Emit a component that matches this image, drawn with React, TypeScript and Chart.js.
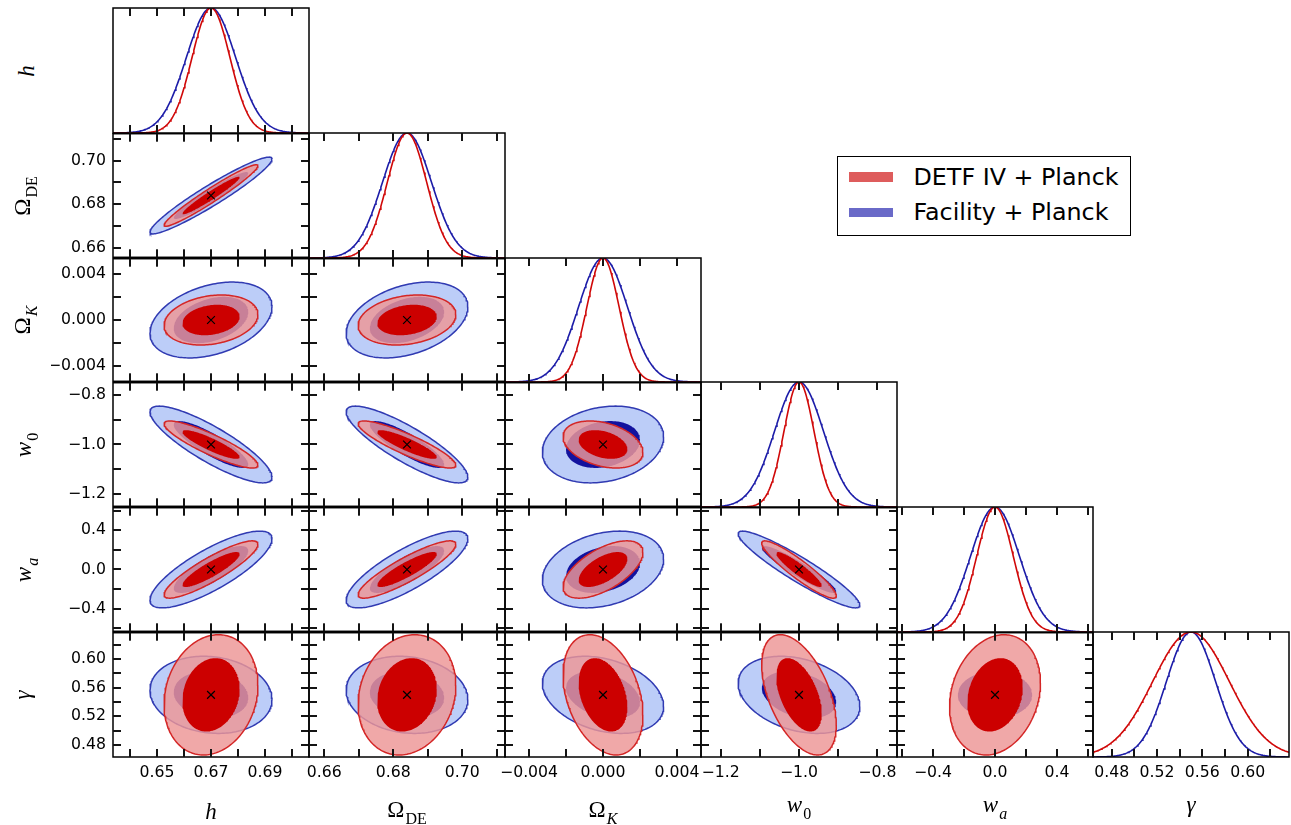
import React, { useEffect, useRef } from 'react';
import { Chart, registerables } from 'chart.js';

Chart.register(...registerables);

// ---------------- data ----------------
// parameter order: h, Omega_DE, Omega_K, w0, wa, gamma
const SYMBOL = ['h', 'Ω', 'Ω', 'w', 'w', 'γ'];
const SYMBOL_ITALIC = [true, false, false, true, true, true];
const SUBSCRIPT = ['', 'DE', 'K', '0', 'a', ''];
const SUBSCRIPT_ITALIC = [false, false, true, false, true, false];

const FIDUCIAL = [0.67, 0.684, 0.0, -1.0, 0.0, 0.55];
const SIGMA_FACILITY = [0.0091, 0.0071, 0.00132, 0.0625, 0.158, 0.0216];
const SIGMA_DETF = [0.007, 0.0057, 0.00087, 0.0383, 0.118, 0.0337];
const AXIS_HALF_RANGE = [0.0363, 0.0284, 0.0053, 0.25, 0.632, 0.0865];

const TICK_STEP = [0.01, 0.01, 0.002, 0.1, 0.2, 0.02];
const LABEL_STEP = [0.02, 0.02, 0.004, 0.2, 0.4, 0.04];
const LABEL_BASE = [0.65, 0.66, 0.0, -1.0, 0.0, 0.48];
const LABEL_DECIMALS = [2, 2, 3, 1, 1, 2];

// correlation coefficients (row parameter vs column parameter)
const RHO_FACILITY = [
  [],
  [0.95],
  [0.35, 0.35],
  [-0.85, -0.85, 0.2],
  [0.8, 0.8, 0.27, -0.93],
  [-0.12, -0.12, -0.3, -0.3, 0.0],
];
const RHO_DETF = [
  [],
  [0.965],
  [0.22, 0.22],
  [-0.88, -0.88, -0.33],
  [0.88, 0.88, 0.6, -0.92],
  [0.16, 0.16, -0.33, -0.5, 0.2],
];
// panels where the Facility 95% contour is not drawn
const FACILITY_OUTER_HIDDEN = ['5,4'];
const CONTOUR_DCHI2 = [2.3, 6.17];
const SERIES_LABELS = ['DETF IV + Planck', 'Facility + Planck'];

// ---------------- styles / layout ----------------
const COLORS = {
  blueOuterFill: 'rgb(188,205,248)',
  blueEdge: 'rgb(48,58,178)',
  blueInner: 'rgb(18,18,158)',
  redOuterFill: 'rgba(237,150,150,0.83)',
  redEdge: 'rgb(212,38,38)',
  redInner: 'rgb(204,0,0)',
  blueLine: 'rgb(28,28,168)',
  redLine: 'rgb(208,8,8)',
  legendRed: 'rgb(222,92,92)',
  legendBlue: 'rgb(106,106,200)',
  tick: 'rgb(20,20,20)',
  frame: 'rgb(0,0,0)',
};
const COL_LEFT = [113, 309, 505, 701, 897, 1093, 1289];
const ROW_TOP = [8, 133, 258, 382, 507, 632, 757];
const TICK_FONT = { family: 'DejaVu Sans', size: 15.7 };
const TICK_LEN = 8;
const TICK_W = 2;
const TITLE_SIZE = 23;
const SUB_SIZE = 16;
const SUB_DROP = 7;
const TITLE_BASE = 19.3; // baseline offset inside the title line box
const X_TITLE_BASELINE = [819, 817, 817, 812, 812.5, 812];
const Y_TITLE_BASELINE_X = [33.5, 29.5, 29.5, 31, 31, 30];

function fmtTick(i: number, v: number): string {
  const n = (v - LABEL_BASE[i]) / LABEL_STEP[i];
  if (Math.abs(n - Math.round(n)) > 1e-6) return '';
  const d = LABEL_DECIMALS[i];
  if (Math.abs(v) < 1e-12) return (0).toFixed(d);
  return v < 0 ? '\u2212' + (-v).toFixed(d) : v.toFixed(d);
}

function tickValues(lo: number, hi: number, step: number): number[] {
  const out: number[] = [];
  const k0 = Math.ceil(lo / step - 1e-9);
  const k1 = Math.floor(hi / step + 1e-9);
  for (let k = k0; k <= k1; k++) out.push(Number((k * step).toFixed(10)));
  return out;
}

function ellipsePoints(mx: number, my: number, sx: number, sy: number, rho: number, dchi2: number) {
  const k = Math.sqrt(dchi2);
  const s = Math.sqrt(Math.max(0, 1 - rho * rho));
  const pts: { x: number; y: number }[] = [];
  const n = 181;
  for (let i = 0; i < n; i++) {
    const t = (2 * Math.PI * i) / (n - 1);
    const ct = Math.cos(t);
    const st = Math.sin(t);
    pts.push({ x: mx + k * sx * ct, y: my + k * sy * (rho * ct + s * st) });
  }
  return pts;
}

function gaussianPoints(mu: number, sigma: number, lo: number, hi: number) {
  const pts: { x: number; y: number }[] = [];
  const n = 241;
  for (let i = 0; i < n; i++) {
    const x = lo + ((hi - lo) * i) / (n - 1);
    const z = (x - mu) / sigma;
    pts.push({ x, y: Math.exp(-0.5 * z * z) });
  }
  return pts;
}

type Spec = {
  r: number; c: number; left: number; top: number; w: number; h: number;
  ml: number; mr: number; mt: number; mb: number; showX: boolean; showY: boolean;
};

const PANELS: Spec[] = [];
for (let r = 0; r < 6; r++) {
  for (let c = 0; c <= r; c++) {
    const showY = c === 0 && r > 0;
    const showX = r === 5;
    const ml = showY ? 62 : 14;
    const mr = 14;
    const mt = 6;
    const mb = showX ? 34 : 6;
    const pw = COL_LEFT[c + 1] - COL_LEFT[c];
    const ph = ROW_TOP[r + 1] - ROW_TOP[r];
    PANELS.push({
      r, c, showX, showY, ml, mr, mt, mb,
      left: COL_LEFT[c] - ml, top: ROW_TOP[r] - mt, w: pw + ml + mr, h: ph + mt + mb,
    });
  }
}

// panel frame + inward tick marks on all four sides, placed through the chart's scales
function framePlugin(diag: boolean, xTicks: number[], yTicks: number[]) {
  return {
    id: 'panelFrame',
    afterDraw(chart: any) {
      const ctx: CanvasRenderingContext2D = chart.ctx;
      const a = chart.chartArea;
      const xs = chart.scales.x;
      const ys = chart.scales.y;
      ctx.save();
      ctx.strokeStyle = COLORS.frame;
      ctx.lineWidth = 1.5;
      ctx.strokeRect(a.left, a.top, a.right - a.left, a.bottom - a.top);
      ctx.fillStyle = COLORS.tick;
      for (const v of xTicks) {
        const px = Math.round(xs.getPixelForValue(v)) - 1;
        ctx.fillRect(px, a.top, TICK_W, TICK_LEN);
        ctx.fillRect(px, a.bottom - TICK_LEN, TICK_W, TICK_LEN);
      }
      if (!diag) {
        for (const v of yTicks) {
          const py = Math.round(ys.getPixelForValue(v)) - 1;
          ctx.fillRect(a.left, py, TICK_LEN, TICK_W);
          ctx.fillRect(a.right - TICK_LEN, py, TICK_LEN, TICK_W);
        }
      }
      ctx.restore();
    },
  };
}

function buildChart(canvas: HTMLCanvasElement, s: Spec) {
  const { r, c } = s;
  const diag = r === c;
  const xmin = FIDUCIAL[c] - AXIS_HALF_RANGE[c];
  const xmax = FIDUCIAL[c] + AXIS_HALF_RANGE[c];
  const ymin = diag ? 0 : FIDUCIAL[r] - AXIS_HALF_RANGE[r];
  const ymax = diag ? 1 : FIDUCIAL[r] + AXIS_HALF_RANGE[r];
  const xTicks = tickValues(xmin, xmax, TICK_STEP[c]);
  const yTicks = diag ? [] : tickValues(ymin, ymax, TICK_STEP[r]);

  const layers: any[] = [];
  if (diag) {
    layers.push({
      label: SERIES_LABELS[1], data: gaussianPoints(FIDUCIAL[c], SIGMA_FACILITY[c], xmin, xmax),
      showLine: true, pointRadius: 0, borderColor: COLORS.blueLine, borderWidth: 1.6, fill: false,
    });
    layers.push({
      label: SERIES_LABELS[0], data: gaussianPoints(FIDUCIAL[c], SIGMA_DETF[c], xmin, xmax),
      showLine: true, pointRadius: 0, borderColor: COLORS.redLine, borderWidth: 1.6, fill: false,
    });
  } else {
    const mx = FIDUCIAL[c], my = FIDUCIAL[r];
    const rf = RHO_FACILITY[r][c], rd = RHO_DETF[r][c];
    if (FACILITY_OUTER_HIDDEN.indexOf(r + ',' + c) < 0) {
      layers.push({
        label: SERIES_LABELS[1],
        data: ellipsePoints(mx, my, SIGMA_FACILITY[c], SIGMA_FACILITY[r], rf, CONTOUR_DCHI2[1]),
        showLine: true, pointRadius: 0, fill: 'shape',
        backgroundColor: COLORS.blueOuterFill, borderColor: COLORS.blueEdge, borderWidth: 1.5,
      });
    }
    layers.push({
      label: SERIES_LABELS[1],
      data: ellipsePoints(mx, my, SIGMA_FACILITY[c], SIGMA_FACILITY[r], rf, CONTOUR_DCHI2[0]),
      showLine: true, pointRadius: 0, fill: 'shape',
      backgroundColor: COLORS.blueInner, borderColor: 'rgba(0,0,0,0)', borderWidth: 1,
    });
    layers.push({
      label: SERIES_LABELS[0],
      data: ellipsePoints(mx, my, SIGMA_DETF[c], SIGMA_DETF[r], rd, CONTOUR_DCHI2[1]),
      showLine: true, pointRadius: 0, fill: 'shape',
      backgroundColor: COLORS.redOuterFill, borderColor: COLORS.redEdge, borderWidth: 1.5,
    });
    layers.push({
      label: SERIES_LABELS[0],
      data: ellipsePoints(mx, my, SIGMA_DETF[c], SIGMA_DETF[r], rd, CONTOUR_DCHI2[0]),
      showLine: true, pointRadius: 0, fill: 'shape',
      backgroundColor: COLORS.redInner, borderColor: 'rgba(0,0,0,0)', borderWidth: 1,
    });
    layers.push({
      label: 'fiducial', data: [{ x: mx, y: my }], showLine: false,
      pointStyle: 'crossRot', pointRadius: 5.5, pointBorderWidth: 1.2,
      pointBorderColor: '#000', pointBackgroundColor: '#000',
    });
  }
  const n = layers.length;
  layers.forEach((d, i) => { d.order = n - i; });

  return new Chart(canvas, {
    type: 'scatter',
    data: { datasets: layers },
    options: {
      animation: false,
      responsive: false,
      maintainAspectRatio: false,
      devicePixelRatio: 1,
      events: [],
      layout: {
        padding: { left: s.showY ? 0 : s.ml, right: s.mr, top: s.mt, bottom: s.showX ? 0 : s.mb },
      },
      plugins: { legend: { display: false }, tooltip: { enabled: false }, title: { display: false } },
      scales: {
        x: {
          type: 'linear', position: 'bottom', min: xmin, max: xmax, display: s.showX,
          grid: { display: false, drawTicks: false }, border: { display: false },
          afterBuildTicks: (sc: any) => { sc.ticks = xTicks.map((v) => ({ value: v })); },
          ticks: {
            autoSkip: false, maxRotation: 0, minRotation: 0,
            padding: 7, color: '#000', font: TICK_FONT, callback: (v: any) => fmtTick(c, Number(v)),
          },
          afterFit: (sc: any) => { if (s.showX) { sc.height = s.mb; sc.paddingLeft = 0; sc.paddingRight = 0; } },
        },
        y: {
          type: 'linear', position: 'left', min: ymin, max: ymax, display: s.showY,
          grid: { display: false, drawTicks: false }, border: { display: false },
          afterBuildTicks: (sc: any) => { if (!diag) sc.ticks = yTicks.map((v) => ({ value: v })); },
          ticks: {
            autoSkip: false,
            padding: 7, color: '#000', font: TICK_FONT, callback: (v: any) => (diag ? '' : fmtTick(r, Number(v))),
          },
          afterFit: (sc: any) => { if (s.showY) { sc.width = s.ml; sc.paddingTop = 0; sc.paddingBottom = 0; } },
        },
      },
    } as any,
    plugins: [framePlugin(diag, xTicks, yTicks)],
  });
}

function TitleText({ i }: { i: number }) {
  return (
    <>
      <span style={{ fontStyle: SYMBOL_ITALIC[i] ? 'italic' : 'normal' }}>{SYMBOL[i]}</span>
      {SUBSCRIPT[i] ? (
        <span
          style={{
            fontSize: SUB_SIZE, fontStyle: SUBSCRIPT_ITALIC[i] ? 'italic' : 'normal',
            position: 'relative', top: SUB_DROP, marginLeft: 1,
          }}
        >
          {SUBSCRIPT[i]}
        </span>
      ) : null}
    </>
  );
}

const titleBase: React.CSSProperties = {
  position: 'absolute', fontFamily: "'Liberation Serif', 'DejaVu Serif', serif", fontSize: TITLE_SIZE,
  lineHeight: TITLE_SIZE + 'px', whiteSpace: 'nowrap', color: '#000',
};

export default function App() {
  const refs = useRef<(HTMLCanvasElement | null)[]>([]);
  useEffect(() => {
    const charts: Chart[] = [];
    PANELS.forEach((p, idx) => {
      const cv = refs.current[idx];
      if (cv) charts.push(buildChart(cv, p));
    });
    return () => { charts.forEach((ch) => ch.destroy()); };
  }, []);

  return (
    <div style={{ position: 'absolute', left: 0, top: 0, width: 1291, height: 825, background: '#fff', overflow: 'hidden' }}>
      {PANELS.map((p, idx) => (
        <canvas
          key={idx}
          ref={(el) => { refs.current[idx] = el; }}
          width={p.w}
          height={p.h}
          style={{ position: 'absolute', left: p.left, top: p.top, width: p.w, height: p.h }}
        />
      ))}
      {SYMBOL.map((_, i) => (
        <div
          key={'xt' + i}
          style={{ ...titleBase, left: (COL_LEFT[i] + COL_LEFT[i + 1]) / 2, top: X_TITLE_BASELINE[i] - TITLE_BASE, transform: 'translateX(-50%)' }}
        >
          <TitleText i={i} />
        </div>
      ))}
      {SYMBOL.map((_, i) => (
        <div
          key={'yt' + i}
          style={{
            ...titleBase, left: Y_TITLE_BASELINE_X[i], top: (ROW_TOP[i] + ROW_TOP[i + 1]) / 2,
            transformOrigin: '0 0', transform: `rotate(-90deg) translate(-50%, -${TITLE_BASE}px)`,
          }}
        >
          <TitleText i={i} />
        </div>
      ))}
      <div
        style={{
          position: 'absolute', left: 837, top: 156, width: 294, height: 80, border: '1px solid #000',
          boxSizing: 'border-box', background: '#fff',
        }}
      >
        {SERIES_LABELS.map((lab, k) => (
          <React.Fragment key={lab}>
            <div
              style={{
                position: 'absolute', left: 11.3, top: k === 0 ? 15.3 : 50.7, width: 43.4, height: 9.5,
                background: k === 0 ? COLORS.legendRed : COLORS.legendBlue,
              }}
            />
            <div
              style={{
                position: 'absolute', left: 75.5, top: k === 0 ? 8.6 : 43.9, fontFamily: "'DejaVu Sans', sans-serif",
                fontSize: 23.8, lineHeight: '23.8px', whiteSpace: 'nowrap', color: '#000',
              }}
            >
              {lab}
            </div>
          </React.Fragment>
        ))}
      </div>
    </div>
  );
}
